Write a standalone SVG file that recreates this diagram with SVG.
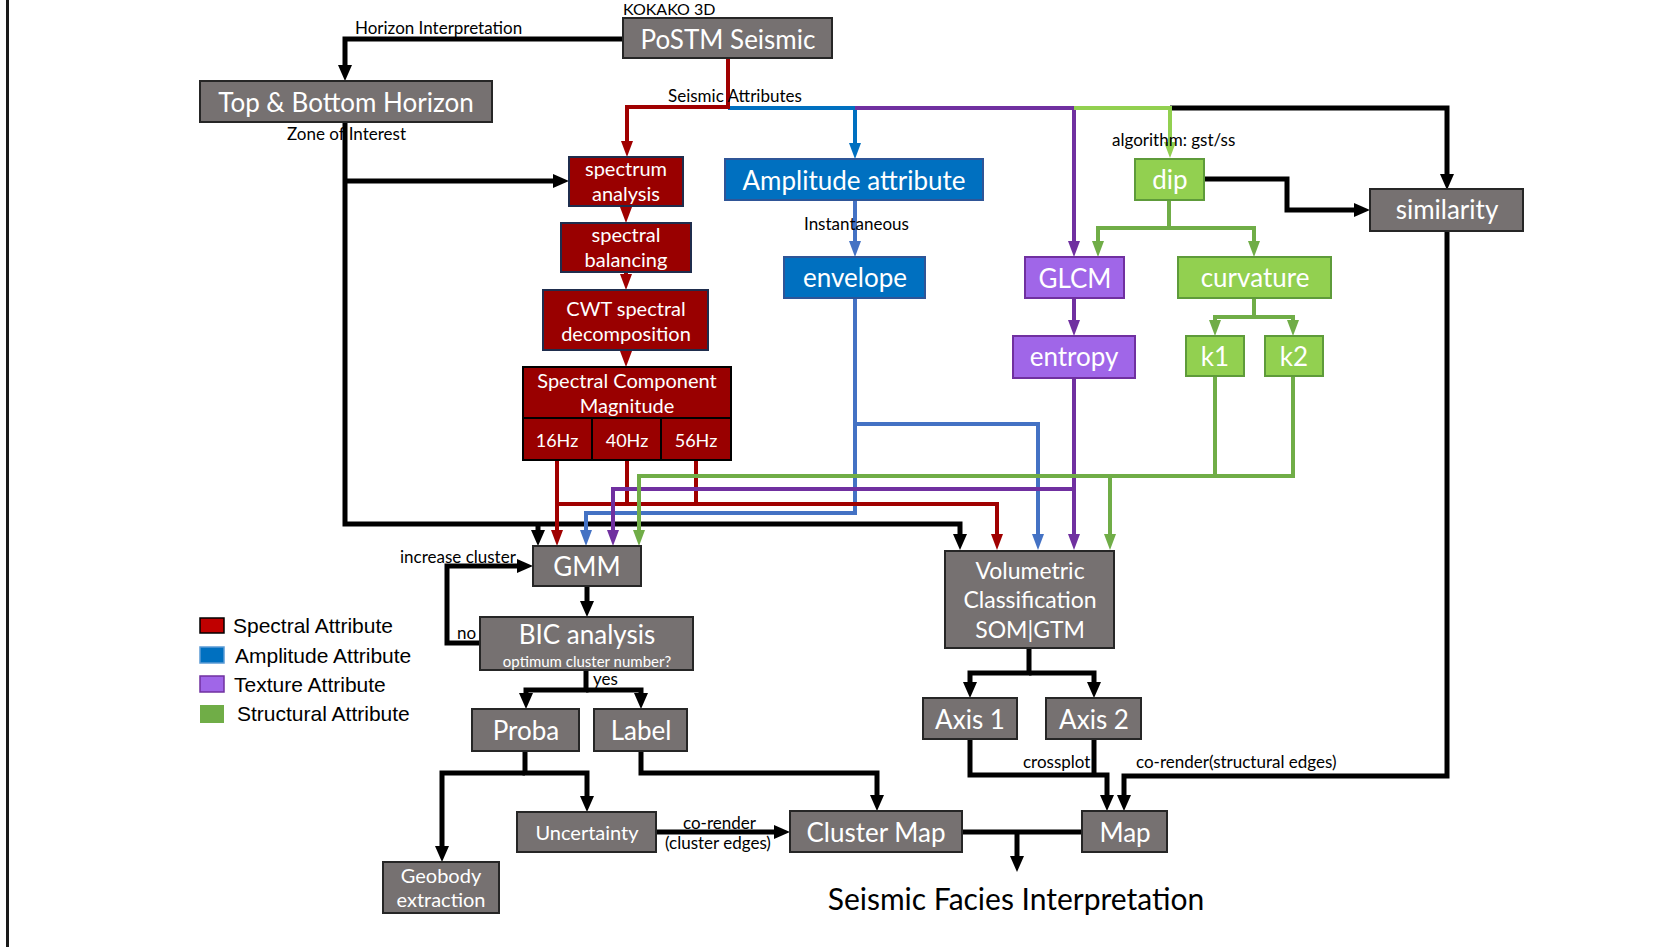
<svg xmlns="http://www.w3.org/2000/svg" width="1654" height="947" viewBox="0 0 1654 947">
<defs>
<style>
.g rect{fill:#767171;stroke:#262626;stroke-width:2}
.r rect{fill:#990000;stroke:#1F2D4D;stroke-width:2}
.b rect{fill:#0070C0;stroke:#2F5597;stroke-width:2}
.p rect{fill:#A066E8;stroke:#7030A0;stroke-width:2}
.gr rect{fill:#92D050;stroke:#5E9B3A;stroke-width:2}
.n text{fill:#fff;font-family:Lato,"Open Sans",sans-serif;text-anchor:middle}
.L{font-size:26px}
.M{font-size:20px}
.lbl{fill:#000;font-family:Lato,"Open Sans",sans-serif;font-size:17px}
.leg{fill:#000;font-family:"Liberation Sans",Arial,sans-serif;font-size:21px}
#connectors path{fill:none;stroke-linejoin:miter}
.k{stroke:#000;stroke-width:5}
.cr{stroke:#A00000;stroke-width:4}
.cb{stroke:#0070C0;stroke-width:4}
.cb2{stroke:#4472C4;stroke-width:4}
.cp{stroke:#7030A0;stroke-width:4}
.cg1{stroke:#92D050;stroke-width:4}
.cg{stroke:#70AD47;stroke-width:4}
</style>
<marker id="ak" markerUnits="userSpaceOnUse" markerWidth="16" markerHeight="16" viewBox="0 0 16 16" refX="1" refY="8" orient="auto"><path d="M0,1 L16,8 L0,15 z" fill="#000"/></marker>
<marker id="ar" markerUnits="userSpaceOnUse" markerWidth="16" markerHeight="14" viewBox="0 0 16 14" refX="1" refY="7" orient="auto"><path d="M0,1 L16,7 L0,13 z" fill="#A00000"/></marker>
<marker id="ab" markerUnits="userSpaceOnUse" markerWidth="16" markerHeight="14" viewBox="0 0 16 14" refX="1" refY="7" orient="auto"><path d="M0,1 L16,7 L0,13 z" fill="#0070C0"/></marker>
<marker id="ab2" markerUnits="userSpaceOnUse" markerWidth="16" markerHeight="14" viewBox="0 0 16 14" refX="1" refY="7" orient="auto"><path d="M0,1 L16,7 L0,13 z" fill="#4472C4"/></marker>
<marker id="ap" markerUnits="userSpaceOnUse" markerWidth="16" markerHeight="14" viewBox="0 0 16 14" refX="1" refY="7" orient="auto"><path d="M0,1 L16,7 L0,13 z" fill="#7030A0"/></marker>
<marker id="ag1" markerUnits="userSpaceOnUse" markerWidth="16" markerHeight="14" viewBox="0 0 16 14" refX="1" refY="7" orient="auto"><path d="M0,1 L16,7 L0,13 z" fill="#92D050"/></marker>
<marker id="ag" markerUnits="userSpaceOnUse" markerWidth="16" markerHeight="14" viewBox="0 0 16 14" refX="1" refY="7" orient="auto"><path d="M0,1 L16,7 L0,13 z" fill="#70AD47"/></marker>
</defs>
<rect x="0" y="0" width="1654" height="947" fill="#fff"/>
<line x1="7.5" y1="0" x2="7.5" y2="947" stroke="#1a1a1a" stroke-width="3"/>

<g id="connectors">
<!-- black -->
<path class="k" d="M623,39 H345 V66" marker-end="url(#ak)"/>
<path class="k" d="M345,122 V524 H960 V535" marker-end="url(#ak)"/>
<path class="k" d="M345,181 H554" marker-end="url(#ak)"/>
<path class="k" d="M538,524 V531" marker-end="url(#ak)"/>
<path class="k" d="M587,586 V602" marker-end="url(#ak)"/>
<path class="k" d="M480,643 H447 V566 H518" marker-end="url(#ak)"/>
<path class="k" d="M586,670 V690 H526 V694" marker-end="url(#ak)"/>
<path class="k" d="M586,690 H641 V694" marker-end="url(#ak)"/>
<path class="k" d="M525,751 V773 H587 V797" marker-end="url(#ak)"/>
<path class="k" d="M525,773 H442 V847" marker-end="url(#ak)"/>
<path class="k" d="M641,751 V773 H877 V796" marker-end="url(#ak)"/>
<path class="k" d="M656,832 H775" marker-end="url(#ak)"/>
<path class="k" d="M962,832 H1082"/>
<path class="k" d="M1017,832 V857" marker-end="url(#ak)"/>
<path class="k" d="M1029,648 V673 H970 V683" marker-end="url(#ak)"/>
<path class="k" d="M1029,673 H1094 V683" marker-end="url(#ak)"/>
<path class="k" d="M970,739 V775 H1107 V796" marker-end="url(#ak)"/>
<path class="k" d="M1094,739 V775"/>
<path class="k" d="M1447,231 V776 H1124 V796" marker-end="url(#ak)"/>
<path class="k" d="M1204,179 H1287 V210 H1355" marker-end="url(#ak)"/>
<path class="k" d="M1170,108 H1447 V175" marker-end="url(#ak)"/>
<!-- blue -->
<path class="cb" d="M728,108 H855 V144" marker-end="url(#ab)"/>
<path class="cb2" d="M855,200 V242" marker-end="url(#ab2)"/>
<path class="cb2" d="M855,298 V513 H586 V531" marker-end="url(#ab2)"/>
<path class="cb2" d="M855,424 H1038 V535" marker-end="url(#ab2)"/>
<!-- red -->
<path class="cr" d="M728,58 V107 H627 V142" marker-end="url(#ar)"/>
<path class="cr" d="M626,206 V208" marker-end="url(#ar)"/>
<path class="cr" d="M626,272 V275" marker-end="url(#ar)"/>
<path class="cr" d="M626,350 V352" marker-end="url(#ar)"/>
<path class="cr" d="M557,460 V531" marker-end="url(#ar)"/>
<path class="cr" d="M627,460 V504"/>
<path class="cr" d="M696,460 V504"/>
<path class="cr" d="M557,504 H997 V535" marker-end="url(#ar)"/>
<!-- purple -->
<path class="cp" d="M855,108 H1074 V242" marker-end="url(#ap)"/>
<path class="cp" d="M1074,298 V321" marker-end="url(#ap)"/>
<path class="cp" d="M1074,378 V535" marker-end="url(#ap)"/>
<path class="cp" d="M1074,489 H613 V531" marker-end="url(#ap)"/>
<!-- green -->
<path class="cg1" d="M1074,108 H1170 V143" marker-end="url(#ag1)"/>
<path class="cg" d="M1169,200 V228 H1098 V242" marker-end="url(#ag)"/>
<path class="cg" d="M1169,228 H1254 V242" marker-end="url(#ag)"/>
<path class="cg" d="M1254,298 V317 H1215 V321" marker-end="url(#ag)"/>
<path class="cg" d="M1254,317 H1293 V321" marker-end="url(#ag)"/>
<path class="cg" d="M1215,376 V476"/>
<path class="cg" d="M1293,376 V476 H639 V531" marker-end="url(#ag)"/>
<path class="cg" d="M1110,476 V535" marker-end="url(#ag)"/>
</g>

<g id="postm" class="n g"><rect x="623" y="18" width="209" height="40"/><text class="L" x="728" y="49">PoSTM Seismic</text></g>
<g id="horizon" class="n g"><rect x="200" y="81" width="292" height="41"/><text class="L" x="346" y="112">Top &amp; Bottom Horizon</text></g>
<g id="spectrum" class="n r"><rect x="569" y="157" width="114" height="49"/><text class="M" x="626" y="176">spectrum</text><text class="M" x="626" y="201">analysis</text></g>
<g id="balancing" class="n r"><rect x="561" y="223" width="130" height="49"/><text class="M" x="626" y="242">spectral</text><text class="M" x="626" y="267">balancing</text></g>
<g id="cwt" class="n r"><rect x="543" y="290" width="165" height="60"/><text class="M" x="626" y="316">CWT spectral</text><text class="M" x="626" y="341">decomposition</text></g>
<g id="scm" class="n r"><rect x="523" y="367" width="208" height="93" style="stroke:#000"/><text class="M" x="627" y="388">Spectral Component</text><text class="M" x="627" y="413">Magnitude</text>
<rect x="523" y="418" width="69" height="42" style="stroke:#000"/><rect x="592" y="418" width="69" height="42" style="stroke:#000"/><rect x="661" y="418" width="70" height="42" style="stroke:#000"/>
<text x="557" y="447" style="font-size:18px">16Hz</text><text x="627" y="447" style="font-size:18px">40Hz</text><text x="696" y="447" style="font-size:18px">56Hz</text></g>
<g id="amplitude" class="n b"><rect x="725" y="159" width="258" height="41"/><text class="L" x="854" y="190">Amplitude attribute</text></g>
<g id="envelope" class="n b"><rect x="784" y="257" width="141" height="41"/><text class="L" x="855" y="287">envelope</text></g>
<g id="glcm" class="n p"><rect x="1025" y="257" width="99" height="41"/><text class="L" x="1075" y="288">GLCM</text></g>
<g id="entropy" class="n p"><rect x="1013" y="336" width="122" height="42"/><text class="L" x="1074" y="366">entropy</text></g>
<g id="dip" class="n gr"><rect x="1135" y="159" width="69" height="41"/><text class="L" x="1170" y="189">dip</text></g>
<g id="curvature" class="n gr"><rect x="1178" y="257" width="153" height="41"/><text class="L" x="1255" y="287">curvature</text></g>
<g id="k1" class="n gr"><rect x="1186" y="336" width="58" height="40"/><text class="L" x="1215" y="366">k1</text></g>
<g id="k2" class="n gr"><rect x="1265" y="336" width="58" height="40"/><text class="L" x="1294" y="366">k2</text></g>
<g id="similarity" class="n g"><rect x="1370" y="189" width="153" height="42"/><text class="L" x="1447" y="219">similarity</text></g>
<g id="gmm" class="n g"><rect x="533" y="546" width="108" height="40"/><text class="L" x="587" y="576">GMM</text></g>
<g id="bic" class="n g"><rect x="480" y="617" width="213" height="53"/><text class="L" x="587" y="644">BIC analysis</text><text x="587" y="667" style="font-size:15px">optimum cluster number?</text></g>
<g id="proba" class="n g"><rect x="472" y="709" width="107" height="42"/><text class="L" x="526" y="740">Proba</text></g>
<g id="label" class="n g"><rect x="594" y="709" width="93" height="42"/><text class="L" x="641" y="740">Label</text></g>
<g id="volumetric" class="n g"><rect x="945" y="551" width="169" height="97"/><text x="1030" y="579" style="font-size:23px">Volumetric</text><text x="1030" y="608" style="font-size:23px">Classification</text><text x="1030" y="638" style="font-size:23px">SOM|GTM</text></g>
<g id="axis1" class="n g"><rect x="923" y="698" width="94" height="41"/><text class="L" x="970" y="729">Axis 1</text></g>
<g id="axis2" class="n g"><rect x="1046" y="698" width="95" height="41"/><text class="L" x="1094" y="729">Axis 2</text></g>
<g id="uncertainty" class="n g"><rect x="517" y="812" width="139" height="40"/><text x="587" y="840" style="font-size:20px">Uncertainty</text></g>
<g id="geobody" class="n g"><rect x="383" y="862" width="116" height="51"/><text x="441" y="883" style="font-size:20px">Geobody</text><text x="441" y="907" style="font-size:20px">extraction</text></g>
<g id="clustermap" class="n g"><rect x="790" y="811" width="172" height="41"/><text class="L" x="876" y="842">Cluster Map</text></g>
<g id="map" class="n g"><rect x="1082" y="811" width="85" height="41"/><text class="L" x="1125" y="842">Map</text></g>

<g id="labels">
<text class="lbl" x="623" y="15" style="font-size:16px">KOKAKO 3D</text>
<text class="lbl" x="355" y="34">Horizon Interpretation</text>
<text class="lbl" x="287" y="140">Zone of Interest</text>
<text class="lbl" x="668" y="102">Seismic Attributes</text>
<text class="lbl" x="1112" y="146">algorithm: gst/ss</text>
<text class="lbl" x="804" y="230">Instantaneous</text>
<text class="lbl" x="400" y="563">increase cluster</text>
<text class="lbl" x="457" y="639">no</text>
<text class="lbl" x="593" y="685">yes</text>
<text class="lbl" x="1023" y="768">crossplot</text>
<text class="lbl" x="1136" y="768">co-render(structural edges)</text>
<text class="lbl" x="683" y="829">co-render</text>
<text class="lbl" x="665" y="849">(cluster edges)</text>
<text x="1016" y="910" style="fill:#000;font-family:Lato,'Open Sans',sans-serif;font-size:30px;text-anchor:middle">Seismic Facies Interpretation</text>
</g>

<g id="legend">
<rect x="200" y="618" width="24" height="15" fill="#C00000" stroke="#000" stroke-width="1.5"/>
<rect x="200" y="647" width="24" height="16" fill="#0070C0" stroke="#5B9BD5" stroke-width="1.5"/>
<rect x="200" y="676" width="24" height="16" fill="#A066E8" stroke="#7030A0" stroke-width="1.5"/>
<rect x="200" y="705" width="24" height="18" fill="#70AD47"/>
<text class="leg" x="233" y="633">Spectral Attribute</text>
<text class="leg" x="235" y="663">Amplitude Attribute</text>
<text class="leg" x="234" y="692">Texture  Attribute</text>
<text class="leg" x="237" y="721">Structural Attribute</text>
</g>
</svg>
